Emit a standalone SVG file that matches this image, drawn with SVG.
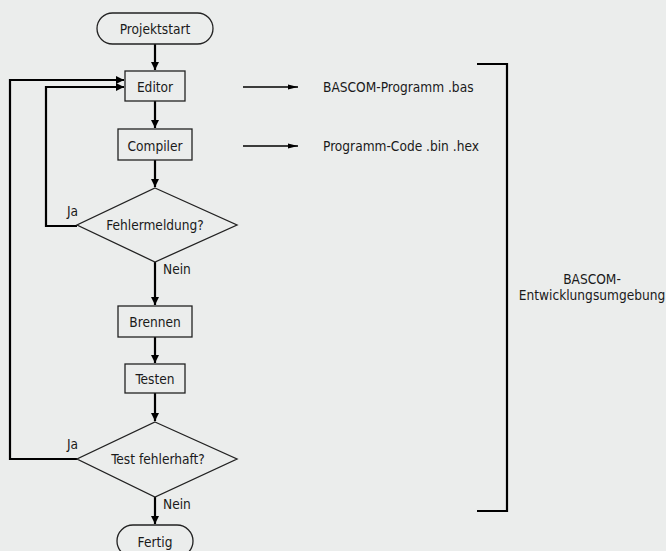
<svg xmlns="http://www.w3.org/2000/svg" width="666" height="551" viewBox="0 0 666 551">
<defs>
<marker id="ah" markerUnits="userSpaceOnUse" markerWidth="8" markerHeight="10" refX="8" refY="4" orient="auto"><path d="M0,0 L8,4 L0,8 Z" fill="#000"/></marker>
<marker id="ahs" markerUnits="userSpaceOnUse" markerWidth="10" markerHeight="6" refX="10" refY="3" orient="auto"><path d="M0,0.5 L10,3 L0,5.5 Z" fill="#000"/></marker>
<style>
text{font-family:"DejaVu Sans Condensed","DejaVu Sans","Liberation Sans",sans-serif;font-stretch:condensed;font-size:13.6px;fill:#1a1a1a}
.b{fill:#ebedec;stroke:#222;stroke-width:1.3}
.c{fill:none;stroke:#000;stroke-width:2.2}
.t{fill:none;stroke:#000;stroke-width:1.6}
.m{text-anchor:middle}
</style>
</defs>
<rect width="666" height="551" fill="#ebedec"/>
<g id="connectors">
<path class="c" d="M155,44 V70" marker-end="url(#ah)"/>
<path class="c" d="M155,101 V128" marker-end="url(#ah)"/>
<path class="c" d="M155,160 V187" marker-end="url(#ah)"/>
<path class="c" d="M155,262 V305" marker-end="url(#ah)"/>
<path class="c" d="M155,337 V363" marker-end="url(#ah)"/>
<path class="c" d="M155,393 V421" marker-end="url(#ah)"/>
<path class="c" d="M155,497 V524" marker-end="url(#ah)"/>
<path class="c" d="M77,226 H46 V87 H124" marker-end="url(#ah)"/>
<path class="c" d="M77,459 H10 V80 H124" marker-end="url(#ah)"/>
<path class="t" d="M243,87 H298" marker-end="url(#ahs)"/>
<path class="t" d="M243,146 H298" marker-end="url(#ahs)"/>
<path class="c" d="M477,64 H507 V511 H477"/>
</g>
<g id="projektstart"><rect class="b" x="97" y="13" width="116" height="31" rx="15.5"/><text class="m" x="155" y="34">Projektstart</text></g>
<g id="editor"><rect class="b" x="125" y="71" width="60" height="30"/><text class="m" x="155" y="92">Editor</text></g>
<g id="compiler"><rect class="b" x="118" y="129" width="74" height="31"/><text class="m" x="155" y="151">Compiler</text></g>
<g id="fehlermeldung"><polygon class="b" points="155,188 237,225 155,262 77,225"/><text class="m" x="155" y="230">Fehlermeldung?</text><text x="67" y="216">Ja</text><text x="163" y="274">Nein</text></g>
<g id="brennen"><rect class="b" x="118" y="306" width="74" height="31"/><text class="m" x="155" y="327">Brennen</text></g>
<g id="testen"><rect class="b" x="125" y="364" width="60" height="29"/><text class="m" x="155" y="384">Testen</text></g>
<g id="testfehlerhaft"><polygon class="b" points="155,422 237,459 155,497 77,459"/><text class="m" x="158" y="464">Test fehlerhaft?</text><text x="67" y="449">Ja</text><text x="163" y="509">Nein</text></g>
<g id="fertig"><rect class="b" x="117" y="525" width="76" height="32" rx="16"/><text class="m" x="155" y="547">Fertig</text></g>
<g id="bas"><text x="323" y="92">BASCOM-Programm .bas</text></g>
<g id="hex"><text x="323" y="151">Programm-Code .bin .hex</text></g>
<g id="bascom"><text class="m" x="592" y="284">BASCOM-</text><text class="m" x="592" y="300">Entwicklungsumgebung</text></g>
</svg>
